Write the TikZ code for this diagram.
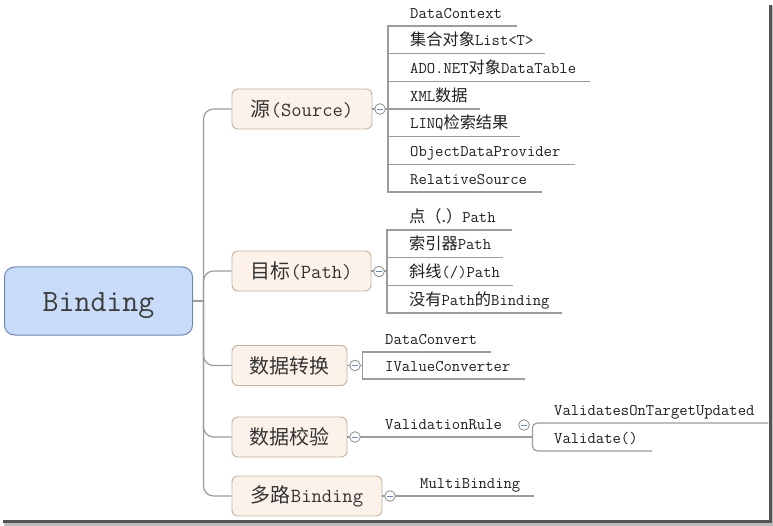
\documentclass[tikz,border=0pt]{standalone}
\usepackage{fontspec}
\newfontfamily\cjk{Noto Sans CJK SC}
\definecolor{linegray}{HTML}{9C9C9C}
\definecolor{topicfill}{HTML}{FDF2E9}
\definecolor{topicborder}{HTML}{C2B2A2}
\definecolor{topictext}{HTML}{333333}
\definecolor{rootfill}{HTML}{C8DCFA}
\definecolor{rootborder}{HTML}{7189B2}
\definecolor{roottext}{HTML}{3C3C3C}
\definecolor{togglegray}{HTML}{8C8C8C}
\definecolor{toggleminus}{HTML}{6F86B8}
\definecolor{shadowdark}{HTML}{555555}
\definecolor{shadowlight}{HTML}{BDBDBD}
\newcommand\topicfont{\fontsize{20}{24}\selectfont\ttfamily}
\newcommand\leaffont{\fontsize{16.2}{19}\selectfont\ttfamily}
\newcommand\rootfont{\fontsize{31}{36}\selectfont\ttfamily}
\tikzset{
  conn/.style={draw=linegray, line width=1.2pt},
  rootbox/.style={draw=rootborder, fill=rootfill, rounded corners=10pt, line width=1pt,
    minimum width=188pt, minimum height=68pt, inner sep=0pt, text height=22pt, text depth=0pt,
    text=roottext, font=\rootfont},
  topic/.style={draw=topicborder, fill=topicfill, rounded corners=6pt, line width=0.9pt,
    minimum height=40pt, inner sep=0pt, text=topictext, font=\topicfont},
  leaf/.style={anchor=south west, inner xsep=0pt, inner ysep=0pt, text height=11pt,
    text depth=7.5pt, align=left, font=\leaffont, text=black!88},
  toggle/.style={circle, draw=togglegray, fill=white, line width=0.8pt, minimum size=10.6pt,
    inner sep=0pt, path picture={\draw[toggleminus, line width=0.8pt]
      ([xshift=-2.6pt]path picture bounding box.center) --
      ([xshift=2.6pt]path picture bounding box.center);}},
}
\begin{document}
\begin{tikzpicture}[x=1pt,y=-1pt]
\fill[white] (0,0) rectangle (773,526);
\useasboundingbox (0,0) rectangle (773,526);

% root and topics
\node[rootbox] (root) at (98.5,301) {Binding};
\node[topic, minimum width=140pt] (t1) at (302,109) {{\cjk 源}(Source)};
\node[topic, minimum width=139pt] (t2) at (301.5,271) {{\cjk 目标}(Path)};
\node[topic, minimum width=115pt] (t3) at (289.5,365.5) {\cjk 数据转换};
\node[topic, minimum width=115pt] (t4) at (289.5,437) {\cjk 数据校验};
\node[topic, minimum width=150pt] (t5) at (307,496) {{\cjk 多路}Binding};

% trunk
\coordinate (j) at (203.5,301);
\draw[conn] (root.east) -- (j);
\foreach \t in {t1,t2,t3,t4,t5}{
  \draw[conn, rounded corners=10pt] (j) |- (\t.west);
}

% leaves of topic 1
\node[leaf, text width=107pt] (l11) at (410,26) {DataContext};
\node[leaf, text width=135pt] (l12) at (410,53.7) {{\cjk 集合对象}List<T>};
\node[leaf, text width=180pt] (l13) at (410,81.3) {ADO.NET{\cjk 对象}DataTable};
\node[leaf, text width=70pt] (l14) at (410,109) {XML{\cjk 数据}};
\node[leaf, text width=110pt] (l15) at (410,136.7) {LINQ{\cjk 检索结果}};
\node[leaf, text width=165pt] (l16) at (410,164.3) {ObjectDataProvider};
\node[leaf, text width=132pt] (l17) at (410,192) {RelativeSource};
\coordinate (b1) at (388,109);
\draw[conn] (t1.east) -- (b1);
\foreach \l in {l11,l12,l13,l14,l15,l16,l17}{
  \draw[conn] (b1) |- (\l.south east);
}

% leaves of topic 2
\node[leaf, text width=103pt] (l21) at (409,230) {{\cjk 点（.）}Path};
\node[leaf, text width=94pt] (l22) at (409,257.7) {{\cjk 索引器}Path};
\node[leaf, text width=104pt] (l23) at (409,285.3) {{\cjk 斜线}(/)Path};
\node[leaf, text width=153pt] (l24) at (409,313) {{\cjk 没有}Path{\cjk 的}Binding};
\coordinate (b2) at (387,271.5);
\draw[conn] (t2.east) -- (t2.east -| b2);
\foreach \l in {l21,l22,l23,l24}{
  \draw[conn] (b2) |- (\l.south east);
}

% leaves of topic 3
\node[leaf, text width=106pt] (l31) at (385,352) {DataConvert};
\node[leaf, text width=140pt] (l32) at (385,379) {IValueConverter};
\coordinate (b3) at (362.5,365.5);
\draw[conn] (t3.east) -- (b3);
\foreach \l in {l31,l32}{
  \draw[conn] (b3) |- (\l.south east);
}

% topic 4
\node[leaf, text width=147pt] (vr) at (385,437) {ValidationRule};
\draw[conn] (t4.east) -- (vr.south east);
\node[leaf, text width=214pt] (vs) at (554,423) {ValidatesOnTargetUpdated};
\node[leaf, text width=98pt] (vd) at (554,451) {Validate()};
\draw[conn, rounded corners=5pt] (vr.south east) |- (vs.south east);
\draw[conn, rounded corners=5pt] (vr.south east) |- (vd.south east);

% topic 5
\node[leaf, text width=114pt] (mb) at (420,496) {MultiBinding};
\draw[conn] (t5.east) -- (t5.east -| mb.south east);

% collapse toggles
\node[toggle] (c1) at (380,109) {};
\node[toggle] (c2) at (379,271.5) {};
\node[toggle] (c3) at (355,365.5) {};
\node[toggle] (c4) at (355,437) {};
\node[toggle] (c5) at (390,496) {};
\node[toggle] (c6) at (524,425) {};

% screenshot shadow frame
\fill[shadowlight] (771.5,6) rectangle (773,525);
\fill[shadowlight] (4,523) rectangle (773,526);
\fill[shadowdark] (768.5,5) rectangle (771.5,523);
\fill[shadowdark] (3,520) rectangle (771.5,523);
\end{tikzpicture}
\end{document}
